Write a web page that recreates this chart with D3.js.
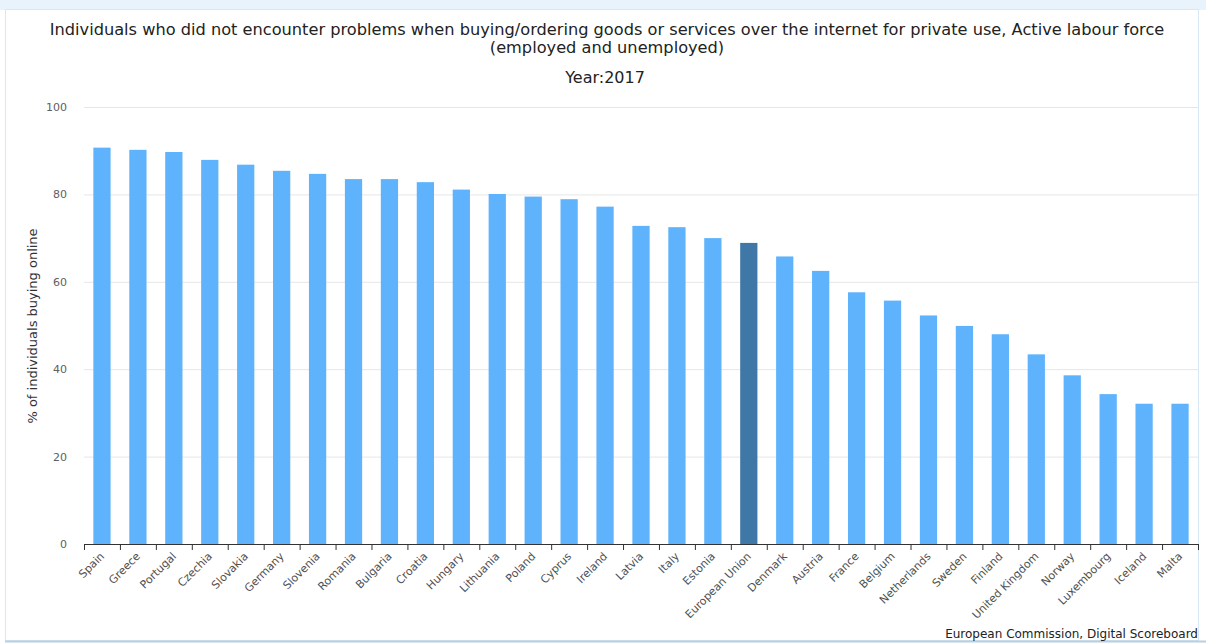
<!DOCTYPE html>
<html><head><meta charset="utf-8">
<script src="https://cdn.jsdelivr.net/npm/d3@7"></script>
<style>
html,body{margin:0;padding:0;background:#fff;}
svg{display:block;font-family:"DejaVu Sans",Verdana,sans-serif;}
</style></head>
<body><svg id="c" width="1206" height="644"></svg>
<script>
const countries = ["Spain","Greece","Portugal","Czechia","Slovakia","Germany","Slovenia","Romania","Bulgaria","Croatia","Hungary","Lithuania","Poland","Cyprus","Ireland","Latvia","Italy","Estonia","European Union","Denmark","Austria","France","Belgium","Netherlands","Sweden","Finland","United Kingdom","Norway","Luxembourg","Iceland","Malta"];
const values = [90.7,90.2,89.7,87.9,86.8,85.4,84.7,83.5,83.5,82.8,81.1,80.1,79.5,78.9,77.2,72.8,72.5,70.0,68.9,65.8,62.5,57.6,55.7,52.3,49.9,48.0,43.4,38.6,34.3,32.1,32.1];
const yTicks = [0,20,40,60,80,100];
const highlight = "European Union";
const titleLines = ["Individuals who did not encounter problems when buying/ordering goods or services over the internet for private use, Active labour force","(employed and unemployed)"];
const subtitle = "Year:2017";
const yTitle = "% of individuals buying online";
const credit = "European Commission, Digital Scoreboard";

const svg = d3.select("#c");
const W = 1206, H = 644;

// frame
svg.append("rect").attr("x",0).attr("y",0).attr("width",W).attr("height",10).attr("fill","#e8f3fc");
svg.append("rect").attr("x",5.5).attr("y",9.5).attr("width",1193).attr("height",631).attr("fill","none").attr("stroke","#d6e7f5").attr("stroke-width",1);
svg.append("line").attr("x1",5).attr("x2",1206).attr("y1",641.5).attr("y2",641.5).attr("stroke","#b9cfe0").attr("stroke-width",2);

const x = d3.scaleBand().domain(countries).range([84,1198]).paddingInner(0.52).paddingOuter(0.26);
const y = d3.scaleLinear().domain([0,100]).range([544,107]);

// grid
svg.append("g").selectAll("line").data(yTicks.filter(d=>d>0)).join("line")
  .attr("x1",84).attr("x2",1198).attr("y1",d=>y(d)+0.5).attr("y2",d=>y(d)+0.5)
  .attr("stroke","#e6e6e6").attr("stroke-width",1);

// y labels
svg.append("g").selectAll("text").data(yTicks).join("text")
  .attr("x",67).attr("y",d=>y(d)+4).attr("text-anchor","end")
  .attr("font-size",11).attr("fill","#606060").text(d=>d);

// bars
svg.append("g").selectAll("rect").data(countries).join("rect")
  .attr("x",d=>x(d)).attr("width",x.bandwidth())
  .attr("y",(d,i)=>y(values[i])).attr("height",(d,i)=>y(0)-y(values[i]))
  .attr("fill",d=>d===highlight?"#3f78a6":"#5eb3fc");

// x axis
const xa = svg.append("g").attr("transform","translate(0,544)")
  .call(d3.axisBottom(x).tickSize(0).tickFormat(""));
xa.select(".domain").attr("stroke","#333").attr("stroke-width",1).attr("d","M84,0.5H1198");
svg.append("g").selectAll("line").data(d3.range(countries.length+1)).join("line")
  .attr("x1",i=>84+i*(1114/countries.length)+0.5).attr("x2",i=>84+i*(1114/countries.length)+0.5)
  .attr("y1",544).attr("y2",550).attr("stroke","#333");

svg.append("g").selectAll("text").data(countries).join("text")
  .attr("transform",d=>`translate(${x(d)+x.bandwidth()/2+3},${557}) rotate(-45)`)
  .attr("text-anchor","end").attr("font-size",11).attr("fill","#505050").text(d=>d);

// titles
svg.append("g").selectAll("text").data(titleLines).join("text")
  .attr("x",607).attr("y",(d,i)=>35+i*18).attr("text-anchor","middle")
  .attr("font-size",16.2).attr("fill","#222").text(d=>d);
svg.append("text").attr("x",605).attr("y",83).attr("text-anchor","middle")
  .attr("font-size",16).attr("fill","#222").text(subtitle);

svg.append("text").attr("transform","translate(37,326) rotate(-90)").attr("text-anchor","middle")
  .attr("font-size",13).attr("fill","#333").text(yTitle);

svg.append("text").attr("x",1198).attr("y",638).attr("text-anchor","end")
  .attr("font-size",12).attr("fill","#222").text(credit);
</script></body></html>
